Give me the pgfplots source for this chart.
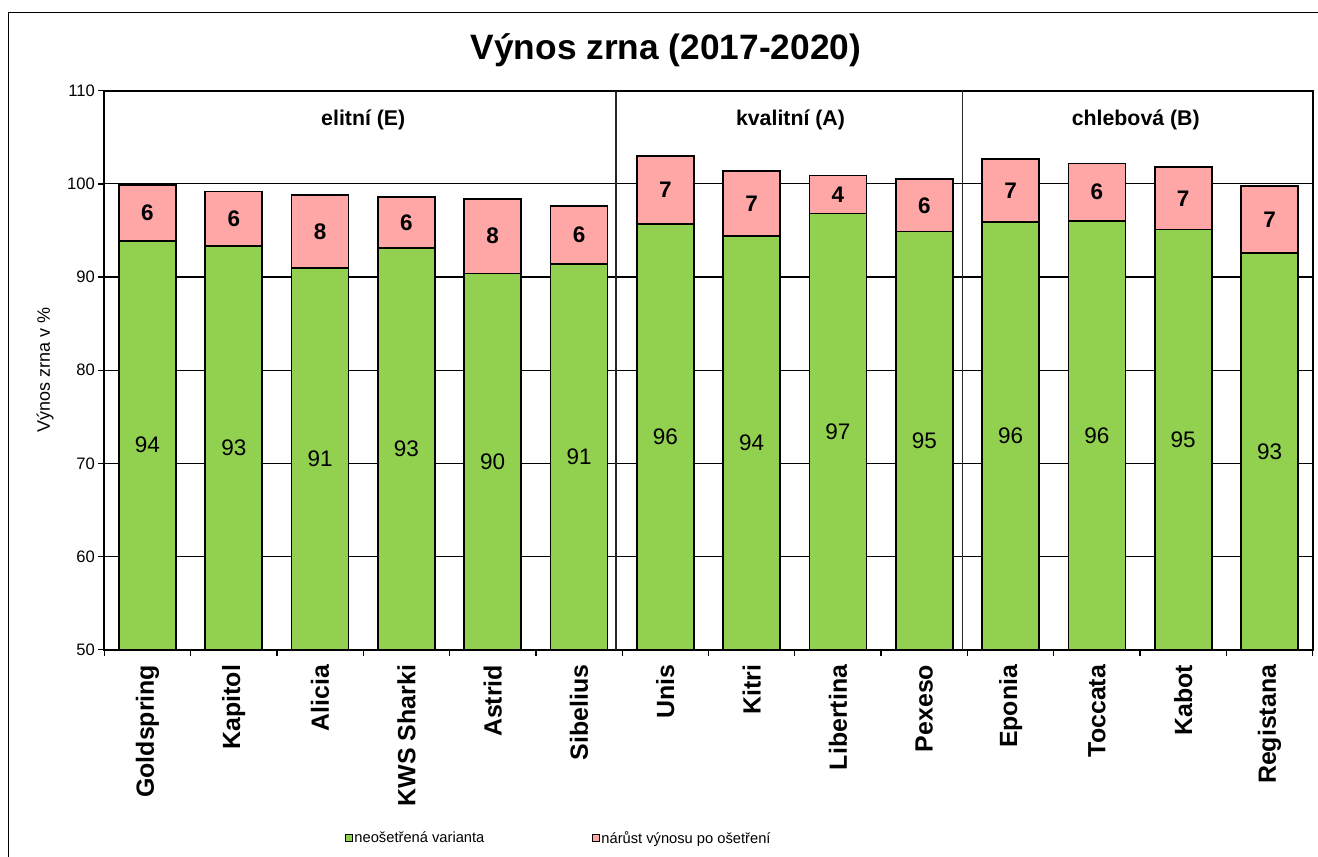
\documentclass[border=0pt]{standalone}
\usepackage{pgfplots}
\pgfplotsset{compat=1.18}
\usepackage{pgfplotstable}
\usepackage{fontspec}
\setmainfont{Liberation Sans}
\definecolor{cgreen}{HTML}{92D050}
\definecolor{cpink}{HTML}{FFA6A6}

\pgfplotstableread{
x g t gl il
0 93.9 99.9 94 6
1 93.3 99.2 93 6
2 91.0 98.8 91 8
3 93.1 98.6 93 6
4 90.4 98.4 90 8
5 91.4 97.6 91 6
6 95.7 103.0 96 7
7 94.4 101.4 94 7
8 96.8 100.9 97 4
9 94.9 100.5 95 6
10 95.9 102.7 96 7
11 96.0 102.2 96 6
12 95.1 101.8 95 7
13 92.6 99.8 93 7
}\data

\begin{document}
\begin{tikzpicture}
\begin{axis}[
  scale only axis, width=1208.4bp, height=559bp,
  xmin=-0.5, xmax=13.5, ymin=50, ymax=110,
  ytick={50,60,...,110},
  ymajorgrids, grid style={black, line width=1.2bp},
  axis line style={black, line width=1.6bp},
  tick align=outside, tick pos=left,
  major tick length=6bp,
  tick style={black, line width=1.3bp},
  xtick={-0.5,0.5,...,13.5},
  xticklabels={},
  extra x ticks={0,1,...,13},
  extra x tick labels={Goldspring,Kapitol,Alicia,KWS Sharki,Astrid,Sibelius,Unis,Kitri,Libertina,Pexeso,Eponia,Toccata,Kabot,Registana},
  extra x tick style={major tick length=0pt},
  xticklabel style={rotate=90, anchor=east, inner sep=0pt, font=\fontsize{24.9bp}{29bp}\selectfont\bfseries},
  xticklabel shift=15bp,
  yticklabel style={font=\fontsize{16.6bp}{19bp}\selectfont},
  /pgf/number format/assume math mode=true,
  ylabel={Výnos zrna v \%},
  ylabel style={font=\fontsize{18bp}{21bp}\selectfont, at={(axis description cs:-0.049,0.5)}, anchor=center},
  title={Výnos zrna (2017-2020)},
  title style={font=\fontsize{35.3bp}{40bp}\selectfont\bfseries, at={(axis description cs:0.4648,1.062)}, anchor=center},
  legend columns=2,
  legend style={at={(axis description cs:0.199,-0.337)}, anchor=west, draw=none, fill=none,
    font=\fontsize{14.7bp}{17bp}\selectfont, inner sep=0pt,
    nodes={inner sep=1.5bp},
    /tikz/every even column/.append style={column sep=106bp}},
  legend image code/.code={\draw[#1, line width=1bp] (0bp,-3.5bp) rectangle (7bp,3.5bp);},
]
\addlegendimage{fill=cgreen, draw=black}
\addlegendentry{neošetřená varianta}
\addlegendimage{fill=cpink, draw=black}
\addlegendentry{nárůst výnosu po ošetření}

\addplot[ybar, bar shift=0pt, bar width=0.66, fill=cpink, draw=black, line width=1.6bp, forget plot]
  table[x=x, y=t] {\data};
\addplot[ybar, bar shift=0pt, bar width=0.66, fill=cgreen, draw=black, line width=1.6bp, forget plot]
  table[x=x, y=g] {\data};

\addplot[draw=none, forget plot, nodes near coords, point meta=explicit symbolic,
  every node near coord/.append style={anchor=center, font=\fontsize{22.5bp}{27bp}\selectfont}]
  table[x=x, y expr=(\thisrow{g}+50)/2, meta=gl] {\data};
\addplot[draw=none, forget plot, nodes near coords, point meta=explicit symbolic,
  every node near coord/.append style={anchor=center, font=\fontsize{22.5bp}{27bp}\selectfont\bfseries}]
  table[x=x, y expr=(\thisrow{g}+\thisrow{t})/2, meta=il] {\data};

\draw[black!85, line width=1.4bp] (axis cs:5.43,50) -- (axis cs:5.43,110);
\draw[black!85, line width=1.4bp] (axis cs:9.44,50) -- (axis cs:9.44,110.4);

\node[font=\fontsize{21.3bp}{25bp}\selectfont\bfseries] at (axis cs:2.5,106.9) {elitní (E)};
\node[font=\fontsize{21.3bp}{25bp}\selectfont\bfseries] at (axis cs:7.45,106.9) {kvalitní (A)};
\node[font=\fontsize{21.3bp}{25bp}\selectfont\bfseries] at (axis cs:11.45,106.9) {chlebová (B)};
\end{axis}
\draw[line width=1.3bp] (-96bp,-207.3bp) -- (-96bp,637bp) -- (1213.7bp,637bp);
\pgfresetboundingbox
\useasboundingbox (-104.3bp,-207.3bp) rectangle (1213.7bp,649.7bp);
\end{tikzpicture}
\end{document}
